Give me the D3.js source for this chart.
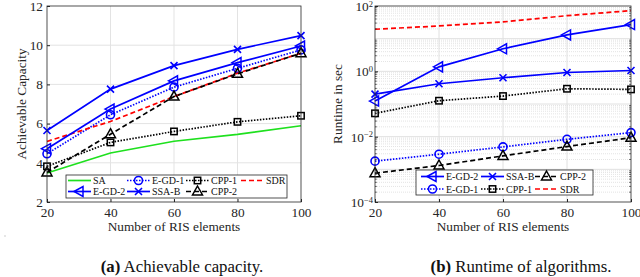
<!DOCTYPE html>
<html>
<head>
<meta charset="utf-8">
<script src="https://cdn.jsdelivr.net/npm/d3@7"></script>
<style>
  body { margin: 0; background: #fff; }
  svg { display: block; font-family: "Liberation Serif", "DejaVu Serif", serif; }
</style>
</head>
<body>
<svg id="chart" width="640" height="277"></svg>
<script>
// x values (number of RIS elements)
const risElements = [20, 40, 60, 80, 100]

// (a) achievable capacity
const capSA    = [3.48, 4.50, 5.10, 5.45, 5.89]
const capEGD1  = [4.46, 6.45, 7.86, 8.82, 9.76]
const capCPP1  = [3.82, 5.04, 5.60, 6.09, 6.40]
const capSDR   = [5.09, 6.11, 7.38, 8.57, 9.59]
const capEGD2  = [4.72, 6.74, 8.18, 9.11, 9.96]
const capSSAB  = [5.65, 7.76, 8.96, 9.79, 10.49]
const capCPP2  = [3.51, 5.46, 7.38, 8.54, 9.59]

// (b) runtime in sec
const rtEGD2 = [0.123, 1.37, 4.9, 13, 27]
const rtSSAB = [0.20, 0.417, 0.635, 0.92, 1.06]
const rtCPP2 = [0.00076, 0.00131, 0.00258, 0.00498, 0.0093]
const rtEGD1 = [0.00178, 0.0029, 0.00486, 0.0083, 0.0133]
const rtCPP1 = [0.0518, 0.126, 0.175, 0.293, 0.28]
const rtSDR  = [19.4, 24.5, 32.5, 50.7, 72]

const capTicks = [2, 4, 6, 8, 10, 12]
const rtTicks = [1e-4, 1e-2, 1e0, 1e2]
const rtTickLabels = ['-4', '-2', '0', '2']

const styles = {
  'SA':     { color: '#1ee01e', dash: null,  marker: null },
  'E-GD-1': { color: '#0000ff', dash: '1.5,1.5', marker: 'circle' },
  'CPP-1':  { color: '#000000', dash: '1.5,1.5', marker: 'square' },
  'SDR':    { color: '#ff0000', dash: '5,3', marker: null },
  'E-GD-2': { color: '#0000ff', dash: null,  marker: 'triLeft' },
  'SSA-B':  { color: '#0000ff', dash: null,  marker: 'cross' },
  'CPP-2':  { color: '#000000', dash: '5,3', marker: 'triUp' }
}

const svg = d3.select('#chart')
const axisColor = '#262626'
const labelSize = 13.3

const drawMarker = (g, type, x, y, color) => {
  if (type === 'circle') {
    g.append('circle').attr('cx', x).attr('cy', y).attr('r', 4)
      .attr('fill', 'none').attr('stroke', color).attr('stroke-width', 1.6)
  } else if (type === 'square') {
    g.append('rect').attr('x', x - 3.2).attr('y', y - 3.2).attr('width', 6.4).attr('height', 6.4)
      .attr('fill', 'none').attr('stroke', color).attr('stroke-width', 1.5)
  } else if (type === 'triUp') {
    g.append('path').attr('d', `M${x},${y - 5.5}L${x + 5},${y + 3.5}L${x - 5},${y + 3.5}Z`)
      .attr('fill', 'none').attr('stroke', color).attr('stroke-width', 1.5)
  } else if (type === 'triLeft') {
    g.append('path').attr('d', `M${x - 5.5},${y}L${x + 3.5},${y - 5}L${x + 3.5},${y + 5}Z`)
      .attr('fill', 'none').attr('stroke', color).attr('stroke-width', 1.5)
  } else if (type === 'cross') {
    g.append('path').attr('d', `M${x - 3.5},${y - 3.5}L${x + 3.5},${y + 3.5}M${x - 3.5},${y + 3.5}L${x + 3.5},${y - 3.5}`)
      .attr('stroke', color).attr('stroke-width', 1.6)
  }
}

const drawSeries = (g, name, values, xs, ys) => {
  const st = styles[name]
  const line = d3.line().x((d, i) => xs(risElements[i])).y(d => ys(d))
  g.append('path').datum(values)
    .attr('d', line)
    .attr('fill', 'none')
    .attr('stroke', st.color)
    .attr('stroke-width', 1.7)
    .attr('stroke-dasharray', st.dash)
  if (st.marker) {
    values.forEach((v, i) => drawMarker(g, st.marker, xs(risElements[i]), ys(v), st.color))
  }
}

const drawLegend = (g, rows, box, colX, rowY) => {
  g.append('rect').attr('x', box[0]).attr('y', box[1]).attr('width', box[2]).attr('height', box[3])
    .attr('fill', '#fff').attr('stroke', axisColor).attr('stroke-width', 0.8)
  rows.forEach((row, r) => {
    row.forEach((name, c) => {
      const st = styles[name]
      const x0 = colX[c], y0 = rowY[r]
      g.append('line').attr('x1', x0).attr('x2', x0 + 23).attr('y1', y0).attr('y2', y0)
        .attr('stroke', st.color).attr('stroke-width', 1.7).attr('stroke-dasharray', st.dash)
      if (st.marker) drawMarker(g, st.marker, x0 + 11.5, y0, st.color)
      g.append('text').attr('x', x0 + 25).attr('y', y0 + 3.5)
        .attr('font-size', 10).attr('fill', '#111').text(name)
    })
  })
}

const styleAxis = a => {
  a.selectAll('.domain').remove()
  a.selectAll('line').attr('stroke', axisColor)
  a.selectAll('text').attr('font-size', labelSize).attr('fill', axisColor).attr('font-family', '"Liberation Serif", serif')
}

// ---------- (a) Achievable capacity ----------
{
  const left = 47, right = 301, top = 6, bottom = 202
  const x = d3.scaleLinear().domain([20, 100]).range([left, right])
  const y = d3.scaleLinear().domain([2, 12]).range([bottom, top])
  const g = svg.append('g')

  // grid
  g.append('g').selectAll('line').data(risElements.slice(1, -1)).join('line')
    .attr('x1', d => x(d)).attr('x2', d => x(d)).attr('y1', top).attr('y2', bottom)
    .attr('stroke', '#e3e3e3').attr('stroke-width', 1)
  g.append('g').selectAll('line').data(capTicks.slice(1, -1)).join('line')
    .attr('x1', left).attr('x2', right).attr('y1', d => y(d)).attr('y2', d => y(d))
    .attr('stroke', '#e3e3e3').attr('stroke-width', 1)

  const series = [['SA', capSA], ['E-GD-1', capEGD1], ['CPP-1', capCPP1], ['SDR', capSDR],
                  ['E-GD-2', capEGD2], ['SSA-B', capSSAB], ['CPP-2', capCPP2]]
  series.forEach(([n, v]) => drawSeries(g, n, v, x, y))

  // axes
  const xAxis = g.append('g').attr('transform', `translate(0,${bottom})`)
    .call(d3.axisBottom(x).tickValues(risElements).tickSizeInner(-3).tickSizeOuter(0).tickPadding(6))
  const yAxis = g.append('g').attr('transform', `translate(${left},0)`)
    .call(d3.axisLeft(y).tickValues(capTicks).tickSizeInner(-3).tickSizeOuter(0).tickPadding(4))
  g.append('rect').attr('x', left).attr('y', top).attr('width', right - left).attr('height', bottom - top)
    .attr('fill', 'none').attr('stroke', axisColor).attr('stroke-width', 0.8)
  styleAxis(xAxis)
  styleAxis(yAxis)

  drawLegend(g, [['SA', 'E-GD-1', 'CPP-1', 'SDR'], ['E-GD-2', 'SSA-B', 'CPP-2']],
    [66, 175, 221, 23], [68, 127, 186, 241], [180.5, 191.5])

  g.append('text').attr('x', (left + right) / 2).attr('y', 231).attr('text-anchor', 'middle')
    .attr('font-size', labelSize).attr('fill', axisColor).text('Number of RIS elements')
  g.append('text').attr('transform', `translate(26,${(top + bottom) / 2}) rotate(-90)`)
    .attr('text-anchor', 'middle').attr('font-size', labelSize).attr('fill', axisColor).text('Achievable Capacity')
  const cap = g.append('text').attr('x', 182).attr('y', 272).attr('text-anchor', 'middle')
    .attr('font-size', 16.8).attr('fill', '#111')
  cap.append('tspan').attr('font-weight', 'bold').text('(a)')
  cap.append('tspan').text(' Achievable capacity.')
  g.append('circle').attr('cx', 5).attr('cy', 236).attr('r', 0.7).attr('fill', '#bbb')
}

// ---------- (b) Runtime ----------
{
  const left = 375, right = 631, top = 6, bottom = 202
  const x = d3.scaleLinear().domain([20, 100]).range([left, right])
  const y = d3.scaleLog().domain([1e-4, 1e2]).range([bottom, top])
  const g = svg.append('g')

  // minor grid (log)
  const minor = []
  for (let e = -4; e < 2; e++) for (let k = 2; k <= 9; k++) minor.push(k * Math.pow(10, e))
  g.append('g').selectAll('line').data(minor).join('line')
    .attr('x1', left).attr('x2', right).attr('y1', d => y(d)).attr('y2', d => y(d))
    .attr('stroke', '#d8d8d8').attr('stroke-width', 0.7).attr('stroke-dasharray', '1,1')
  const majors = [1e-3, 1e-2, 1e-1, 1e0, 1e1]
  g.append('g').selectAll('line').data(majors).join('line')
    .attr('x1', left).attr('x2', right).attr('y1', d => y(d)).attr('y2', d => y(d))
    .attr('stroke', '#e0e0e0').attr('stroke-width', 1)
  g.append('g').selectAll('line').data(risElements.slice(1, -1)).join('line')
    .attr('x1', d => x(d)).attr('x2', d => x(d)).attr('y1', top).attr('y2', bottom)
    .attr('stroke', '#e0e0e0').attr('stroke-width', 1)

  const series = [['SDR', rtSDR], ['E-GD-2', rtEGD2], ['SSA-B', rtSSAB], ['CPP-1', rtCPP1],
                  ['E-GD-1', rtEGD1], ['CPP-2', rtCPP2]]
  series.forEach(([n, v]) => drawSeries(g, n, v, x, y))

  const xAxis = g.append('g').attr('transform', `translate(0,${bottom})`)
    .call(d3.axisBottom(x).tickValues(risElements).tickSizeInner(-3).tickSizeOuter(0).tickPadding(6))
  const yAxis = g.append('g').attr('transform', `translate(${left},0)`)
    .call(d3.axisLeft(y).tickValues(rtTicks).tickFormat('').tickSizeInner(-3).tickSizeOuter(0))
  // minor tick marks on y axis
  g.append('g').selectAll('line').data(minor).join('line')
    .attr('x1', left).attr('x2', left + 1.8).attr('y1', d => y(d)).attr('y2', d => y(d))
    .attr('stroke', axisColor).attr('stroke-width', 0.7)
  g.append('g').selectAll('line').data(minor).join('line')
    .attr('x1', right).attr('x2', right - 1.8).attr('y1', d => y(d)).attr('y2', d => y(d))
    .attr('stroke', axisColor).attr('stroke-width', 0.7)
  g.append('rect').attr('x', left).attr('y', top).attr('width', right - left).attr('height', bottom - top)
    .attr('fill', 'none').attr('stroke', axisColor).attr('stroke-width', 0.8)
  styleAxis(xAxis)
  styleAxis(yAxis)
  // y tick labels 10^n
  rtTicks.forEach((t, i) => {
    const tx = g.append('text').attr('x', 373).attr('y', y(t) + 5).attr('text-anchor', 'end')
      .attr('font-size', labelSize).attr('fill', axisColor)
    tx.append('tspan').text('10')
    tx.append('tspan').attr('dy', -4.5).attr('font-size', 8.5).text(rtTickLabels[i].replace('-', '\u2212'))
  })

  drawLegend(g, [['E-GD-2', 'SSA-B', 'CPP-2'], ['E-GD-1', 'CPP-1', 'SDR']],
    [416, 170, 177, 25], [421, 481, 535], [176.5, 189])

  g.append('text').attr('x', (left + right) / 2).attr('y', 231).attr('text-anchor', 'middle')
    .attr('font-size', labelSize).attr('fill', axisColor).text('Number of RIS elements')
  g.append('text').attr('transform', `translate(342,${(top + bottom) / 2}) rotate(-90)`)
    .attr('text-anchor', 'middle').attr('font-size', labelSize).attr('fill', axisColor).text('Runtime in sec')
  const cap = g.append('text').attr('x', 521).attr('y', 272).attr('text-anchor', 'middle')
    .attr('font-size', 16.8).attr('fill', '#111')
  cap.append('tspan').attr('font-weight', 'bold').text('(b)')
  cap.append('tspan').text(' Runtime of algorithms.')
}
</script>
</body>
</html>
